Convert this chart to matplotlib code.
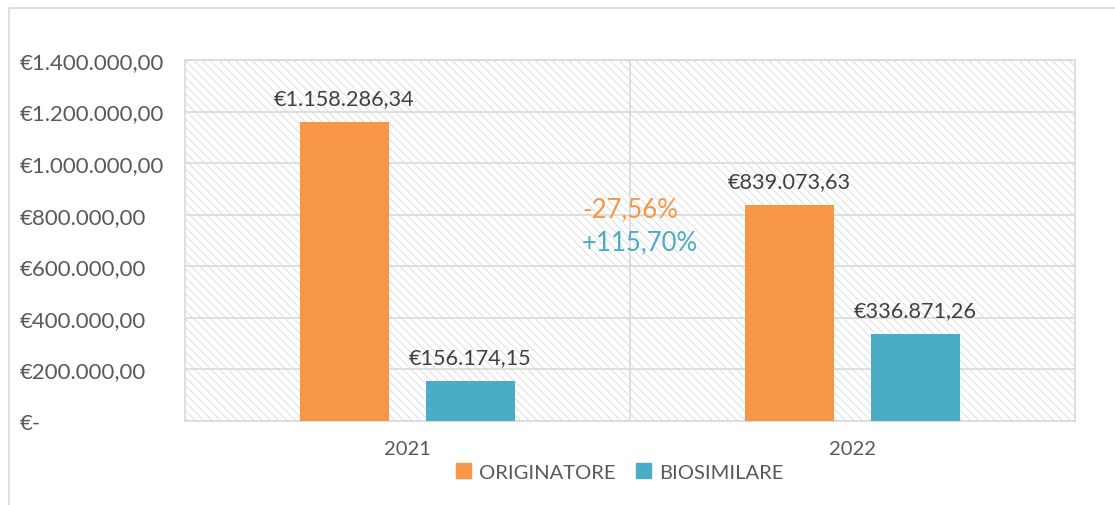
import matplotlib
matplotlib.use("Agg")
import matplotlib.pyplot as plt
from matplotlib.patches import Patch, Rectangle
import numpy as np

# Dati
anni = ["2021", "2022"]
originatore = [1158286.34, 839073.63]
biosimilare = [156174.15, 336871.26]
etichette_orig = ["€1.158.286,34", "€839.073,63"]
etichette_bio = ["€156.174,15", "€336.871,26"]
y_ticks = [0, 200000, 400000, 600000, 800000, 1000000, 1200000, 1400000]
y_labels = ["€-", "€200.000,00", "€400.000,00", "€600.000,00", "€800.000,00",
            "€1.000.000,00", "€1.200.000,00", "€1.400.000,00"]
var_orig = "-27,56%"
var_bio = "+115,70%"

ARANCIO = "#F79646"
AZZURRO = "#4BACC6"
GRIGIO = "#595959"
GRIGLIA = "#d9d9d9"

plt.rcParams["font.family"] = ["Lato", "DejaVu Sans"]
plt.rcParams["hatch.color"] = "#dedede"
plt.rcParams["hatch.linewidth"] = 0.7

fig = plt.figure(figsize=(11.15, 5.06), dpi=100)
ax = fig.add_axes([185 / 1115, 1 - 422 / 506, 890 / 1115, 361 / 506])

# sfondo tratteggiato
ax.add_patch(Rectangle((0, 0), 1, 1, transform=ax.transAxes, facecolor="white",
                       edgecolor="#dedede", hatch="\\\\\\\\", lw=0, zorder=0))

x = np.arange(len(anni))
w = 0.198
off = 0.1416
b1 = ax.bar(x - off, originatore, w, color=ARANCIO, zorder=3)
b2 = ax.bar(x + off, biosimilare, w, color=AZZURRO, zorder=3)

for rect, lab in zip(b1, etichette_orig):
    ax.annotate(lab, (rect.get_x() + rect.get_width() / 2, rect.get_height()),
                xytext=(0, 10), textcoords="offset points", ha="center", va="bottom",
                fontsize=15.6, color="#404040")
for rect, lab in zip(b2, etichette_bio):
    ax.annotate(lab, (rect.get_x() + rect.get_width() / 2, rect.get_height()),
                xytext=(0, 10), textcoords="offset points", ha="center", va="bottom",
                fontsize=15.6, color="#404040")

ax.text(0.392, 822000, var_orig, color=ARANCIO, fontsize=18.5, ha="left", va="center")
ax.text(0.392, 694000, var_bio, color=AZZURRO, fontsize=18.5, ha="left", va="center")

ax.set_xlim(-0.5, 1.5)
ax.set_ylim(0, 1400000)
ax.set_xticks(x)
ax.set_xticklabels(anni)
ax.set_xticks([0.5], minor=True)
ax.set_yticks(y_ticks)
ax.set_yticklabels(y_labels)
for t in ax.get_yticklabels():
    t.set_horizontalalignment("left")
ax.tick_params(axis="y", length=0, pad=119, labelsize=16, labelcolor=GRIGIO)
ax.tick_params(axis="x", which="both", length=0, pad=14, labelsize=14.5, labelcolor=GRIGIO)
ax.grid(True, axis="y", color=GRIGLIA, lw=1.2, zorder=1)
ax.grid(True, axis="x", which="minor", color=GRIGLIA, lw=1.2, zorder=1)
ax.set_axisbelow(True)
for s in ax.spines.values():
    s.set_color(GRIGLIA)
    s.set_linewidth(1.2)

fig.legend(handles=[Patch(color=ARANCIO, label="ORIGINATORE"),
                    Patch(color=AZZURRO, label="BIOSIMILARE")],
           loc="center", bbox_to_anchor=(620 / 1115, 1 - 473 / 506), ncol=2,
           frameon=False, fontsize=14.5, labelcolor=GRIGIO, handlelength=0.75,
           handleheight=0.75, handletextpad=0.4, columnspacing=1.0)

# cornice esterna
fig.add_artist(Rectangle((8.5 / 1115, -0.1), 1.2, 1 - 8.5 / 506 + 0.1,
                         transform=fig.transFigure, fill=False,
                         edgecolor=GRIGLIA, lw=1.2))

fig.savefig("out.png", dpi=100)
